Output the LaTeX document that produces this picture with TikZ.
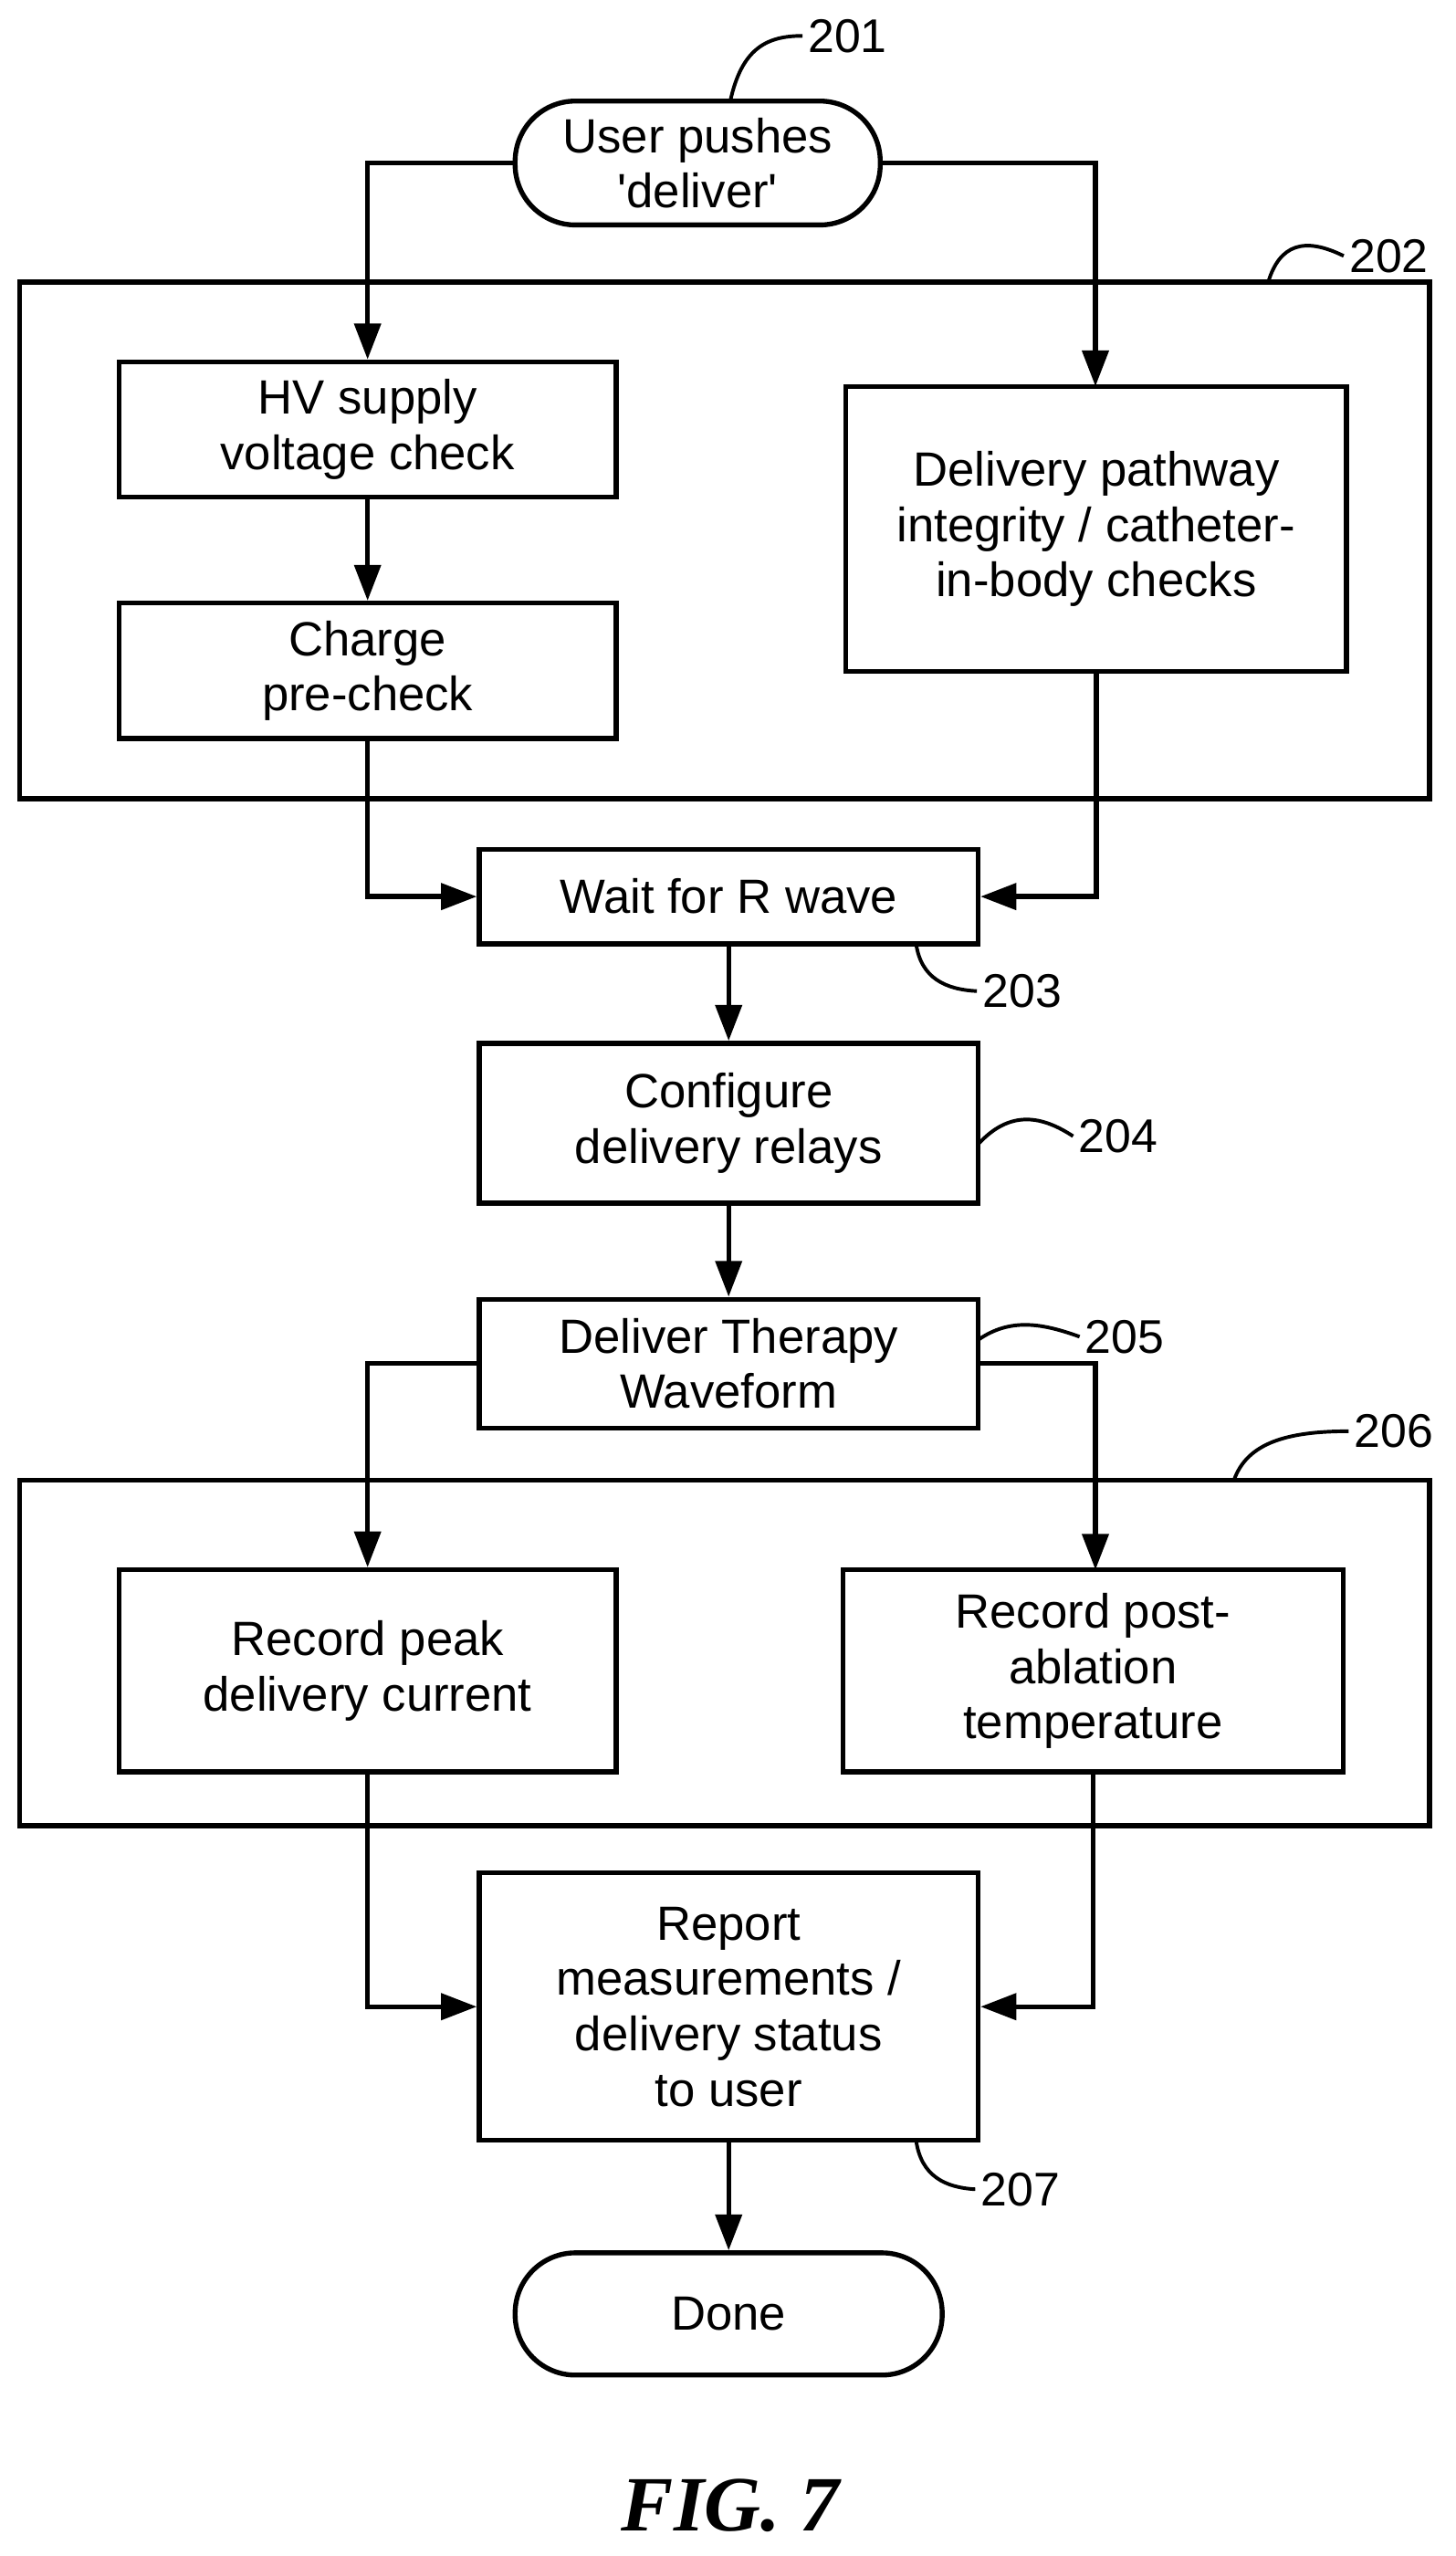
\documentclass[tikz,border=0pt]{standalone}
\usepackage{fontspec}
\setmainfont{Liberation Sans}
\newfontfamily\figfont{Liberation Serif}
\usetikzlibrary{arrows.meta}
\begin{document}
\begin{tikzpicture}[x=1pt,y=-1pt,
  lw/.style={line width=3pt},
  box/.style={draw,lw,rectangle,align=center,font=\fontsize{29.5}{34}\selectfont,inner sep=0pt},
  term/.style={box,rounded corners=37pt},
  arr/.style={lw,-{Triangle[length=22pt,width=16pt]}},
  lab/.style={font=\fontsize{29}{32}\selectfont},
  lead/.style={line width=2.2pt}]
\useasboundingbox (0,0) rectangle (893,1568);
\node[term,minimum width=224pt,minimum height=76pt] (s) at (428,100) {User pushes\\\textquotesingle deliver\textquotesingle};
\node[draw,lw,minimum width=865pt,minimum height=317pt,inner sep=0pt] (g1) at (444.5,331.5) {};
\node[box,minimum width=305pt,minimum height=83pt] (hv) at (225.5,263.5) {HV supply\\voltage check};
\node[box,minimum width=305pt,minimum height=83pt] (ch) at (225.5,411.5) {Charge\\pre-check};
\node[box,minimum width=307pt,minimum height=175pt] (dp) at (672.5,324.5) {Delivery pathway\\integrity / catheter-\\in-body checks};
\node[box,minimum width=306pt,minimum height=58pt] (w) at (447,550) {Wait for R wave};
\node[box,minimum width=306pt,minimum height=98pt] (c) at (447,689) {Configure\\delivery relays};
\node[box,minimum width=306pt,minimum height=79pt] (d) at (447,836.5) {Deliver Therapy\\Waveform};
\node[draw,lw,minimum width=865pt,minimum height=212pt,inner sep=0pt] (g2) at (444.5,1014) {};
\node[box,minimum width=305pt,minimum height=124pt] (rp) at (225.5,1025) {Record peak\\delivery current};
\node[box,minimum width=307pt,minimum height=124pt] (rt) at (670.5,1025) {Record post-\\ablation\\temperature};
\node[box,minimum width=306pt,minimum height=164pt] (r) at (447,1231) {Report\\measurements /\\delivery status\\to user};
\node[term,minimum width=262pt,minimum height=75pt] (dn) at (447,1419.5) {Done};
\node[font=\figfont\bfseries\itshape\fontsize{48}{52}\selectfont] (fig) at (448,1537) {FIG. 7};
% arrows
\draw[arr] (s.west) -| (hv.north);
\draw[arr] (s.east) -| (672,237);
\draw[arr] (hv) -- (ch);
\draw[arr] (ch.south) |- (w.west);
\draw[arr] (dp.south) |- (w.east);
\draw[arr] (w) -- (c);
\draw[arr] (c) -- (d);
\draw[arr] (d.west) -| (rp.north);
\draw[arr] (d.east) -| (672,963);
\draw[arr] (rp.south) |- (r.west);
\draw[arr] (rt.south) |- (r.east);
\draw[arr] (r) -- (dn);
% labels
\node[lab] (l201) at (520,22) {201};
\draw[lead] (448,62) .. controls (455,30) and (470,22) .. (l201.west);
\node[lab] (l202) at (852,157) {202};
\draw[lead] (778,173) .. controls (785,150) and (800,145) .. (l202.west);
\node[lab] (l203) at (627,608) {203};
\draw[lead] (562,579) .. controls (565,600) and (580,607) .. (l203.west);
\node[lab] (l204) at (686,697) {204};
\draw[lead] (600,702) .. controls (620,680) and (640,685) .. (l204.west);
\node[lab] (l205) at (690,820) {205};
\draw[lead] (600,822) .. controls (620,808) and (640,812) .. (l205.west);
\node[lab] (l206) at (855,878) {206};
\draw[lead] (757,908) .. controls (765,885) and (790,878) .. (l206.west);
\node[lab] (l207) at (626,1343) {207};
\draw[lead] (562,1313) .. controls (565,1335) and (580,1342) .. (l207.west);
\end{tikzpicture}
\end{document}
